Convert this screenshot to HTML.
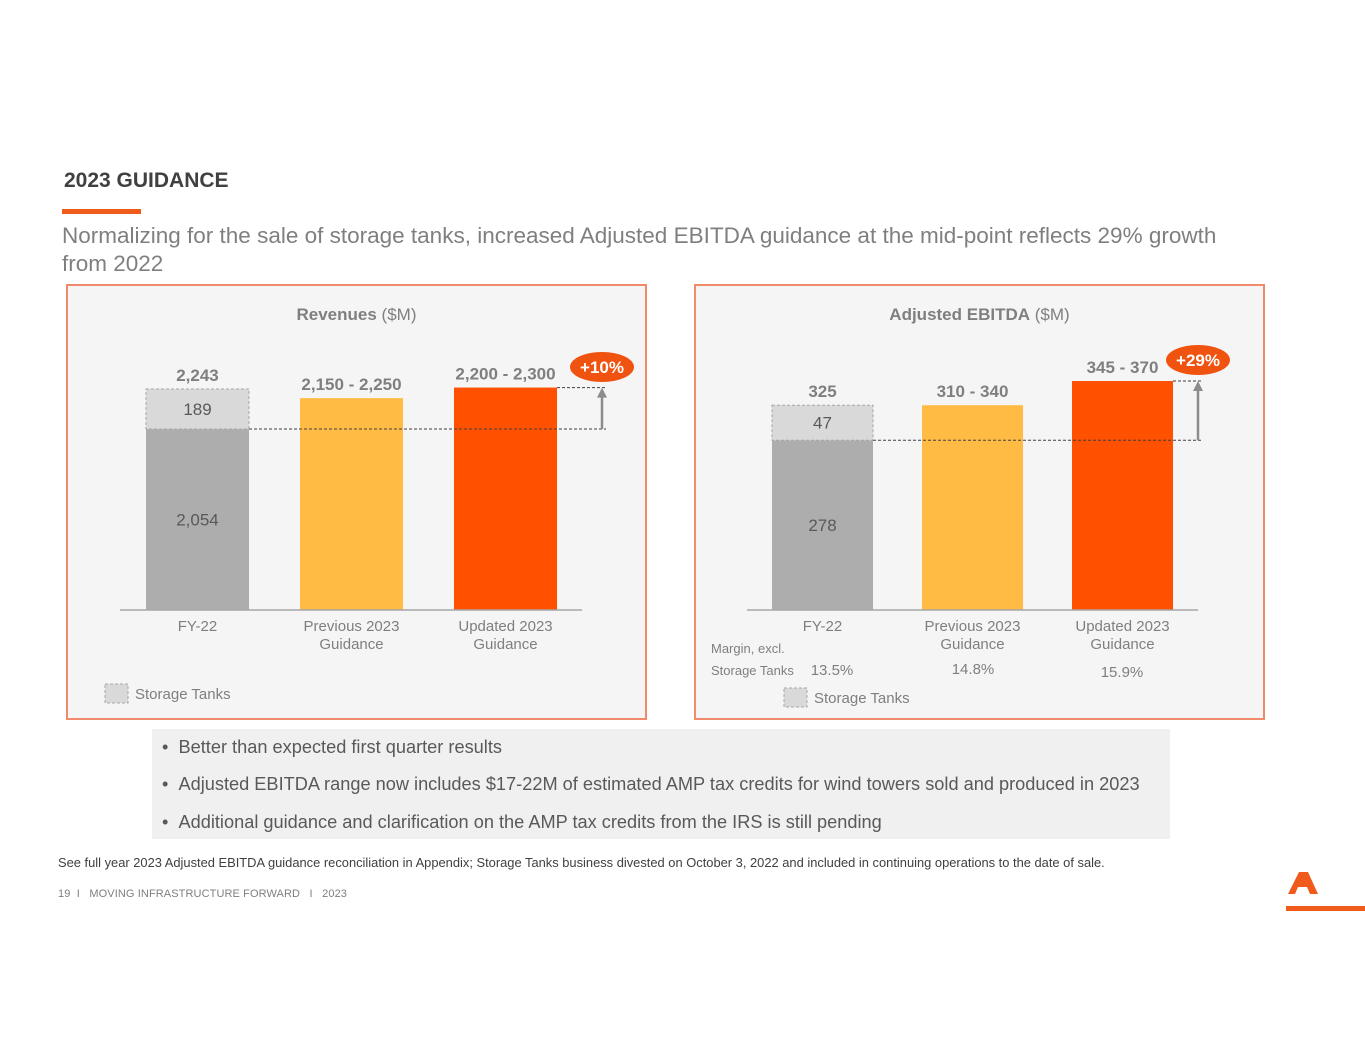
<!DOCTYPE html>
<html><head><meta charset="utf-8">
<style>
body{margin:0;width:1365px;height:1055px;background:#fff;position:relative;overflow:hidden;font-family:"Liberation Sans",sans-serif;color:#7f7f7f}
.abs{position:absolute}
</style></head>
<body>
<div class="abs" style="left:64px;top:169px;font-size:21px;font-weight:bold;color:#404040">2023 GUIDANCE</div>
<div class="abs" style="left:62px;top:209px;width:79px;height:5px;background:#f05a1a"></div>
<div class="abs" style="left:62px;top:222px;font-size:22.5px;line-height:28px;color:#7f7f7f;width:1180px">Normalizing for the sale of storage tanks, increased Adjusted EBITDA guidance at the mid-point reflects 29% growth from 2022</div>
<svg class="abs" style="left:0;top:0" width="1365" height="1055" id="charts" font-family="Liberation Sans, sans-serif"></svg>
<div class="abs" style="left:152px;top:729px;width:1018px;height:110px;background:#f0f0f0;font-size:18.2px;color:#595959">
<div style="position:absolute;left:10px;top:8px">•&nbsp;&nbsp;Better than expected first quarter results</div>
<div style="position:absolute;left:10px;top:45px">•&nbsp;&nbsp;Adjusted EBITDA range now includes $17-22M of estimated AMP tax credits for wind towers sold and produced in 2023</div>
<div style="position:absolute;left:10px;top:83px">•&nbsp;&nbsp;Additional guidance and clarification on the AMP tax credits from the IRS is still pending</div>
</div>
<div class="abs" style="left:58px;top:855px;font-size:12.9px;color:#404040">See full year 2023 Adjusted EBITDA guidance reconciliation in Appendix; Storage Tanks business divested on October 3, 2022 and included in continuing operations to the date of sale.</div>
<div class="abs" style="left:58px;top:888px;font-size:11px;color:#7f7f7f;letter-spacing:0.1px">19&nbsp;&nbsp;I&nbsp;&nbsp;&nbsp;MOVING INFRASTRUCTURE FORWARD&nbsp;&nbsp;&nbsp;I&nbsp;&nbsp;&nbsp;2023</div>
<svg class="abs" style="left:1284px;top:870px" width="82" height="42">
<polygon points="15,2 24,2 34,24 26,24 23,17 14,17 11,24 4,24 13,6" fill="#f05a1a"/>
<rect x="2" y="36" width="80" height="5" fill="#f05a1a"/>
</svg>
<script>
const revCats=["FY-22","Previous 2023|Guidance","Updated 2023|Guidance"];
const revBase=[2054,2150,2200];
const revHigh=[2243,2250,2300];
const revTanks=[189,0,0];
const revLabels=["2,243","2,150 - 2,250","2,200 - 2,300"];
const ebCats=["FY-22","Previous 2023|Guidance","Updated 2023|Guidance"];
const ebBase=[278,310,345];
const ebHigh=[325,340,370];
const ebTanks=[47,0,0];
const ebLabels=["325","310 - 340","345 - 370"];
const margins=["13.5%","14.8%","15.9%"];
const colors=["#adadad","#ffbb44","#ff5100"];
const svg=document.getElementById('charts');
const NS="http://www.w3.org/2000/svg";
function mk(t,a,txt){const e=document.createElementNS(NS,t);for(const k in a)e.setAttribute(k,a[k]);if(txt!=null)e.textContent=txt;svg.appendChild(e);return e;}
function chart(o){
  let e=mk('rect',{x:o.px,y:285,width:o.pw,height:434,fill:'#f5f5f5',stroke:'#f08a6a','stroke-width':2});
  
  e=mk('text',{x:o.px+o.pw/2,y:320,'text-anchor':'middle','font-size':17,fill:'#7f7f7f'});
  e.innerHTML='<tspan font-weight="bold">'+o.title+'</tspan> ($M)';
  
  const base=610;const y=v=>base-o.a*(v-o.v0);
  const mids=o.high.map((h,i)=>i==0?h:(o.base[i]+h)/2);
  const baseY0=y(o.base[0]);
  o.cats.forEach((c,i)=>{
    const x=o.bx[i];
    if(i==0){
      e=mk('rect',{x,y:baseY0,width:o.bw,height:base-baseY0,fill:colors[0]});
      
      const tt=y(o.base[0]+o.tanks[0]);
      e=mk('rect',{x,y:tt,width:o.bw,height:baseY0-tt,fill:'#d9d9d9',stroke:'#a6a6a6','stroke-dasharray':'3,2'});
      
      e=mk('text',{x:x+o.bw/2,y:(tt+baseY0)/2+6,'text-anchor':'middle','font-size':17,fill:'#595959'},String(o.tanks[0]));
      e=mk('text',{x:x+o.bw/2,y:(baseY0+base)/2+6,'text-anchor':'middle','font-size':17,fill:'#595959'},o.base[0].toLocaleString('en-US'));
      e=mk('text',{x:x+o.bw/2,y:tt-8,'text-anchor':'middle','font-size':17,'font-weight':'bold',fill:'#7f7f7f'},o.labels[i]);
    } else {
      const t=y(mids[i]);
      e=mk('rect',{x,y:t,width:o.bw,height:base-t,fill:colors[i]});
      
      e=mk('text',{x:x+o.bw/2,y:t-8,'text-anchor':'middle','font-size':17,'font-weight':'bold',fill:'#7f7f7f'},o.labels[i]);
    }
    c.split('|').forEach((l,j)=>{mk('text',{x:x+o.bw/2,y:631+j*18,'text-anchor':'middle','font-size':15,fill:'#7f7f7f'},l);});
  });
  e=mk('line',{x1:o.ax0,x2:o.ax1,y1:base,y2:base,stroke:'#a6a6a6','stroke-width':1.5});
  
  const topU=y(mids[2]);
  mk('line',{x1:o.bx[0]+o.bw,x2:o.arX+4,y1:baseY0,y2:baseY0,stroke:'#404040','stroke-dasharray':'3,2'});
  mk('line',{x1:o.bx[2]+o.bw,x2:o.arX+4,y1:topU,y2:topU,stroke:'#404040','stroke-dasharray':'3,2'});
  mk('line',{x1:o.arX,x2:o.arX,y1:baseY0,y2:topU+8,stroke:'#8c8c8c','stroke-width':2.5});
  mk('polygon',{points:`${o.arX-5},${topU+10} ${o.arX+5},${topU+10} ${o.arX},${topU}`,fill:'#8c8c8c'});
  e=mk('ellipse',{cx:o.arX,cy:o.badgeY,rx:32,ry:15,fill:'#f0520f'});
  
  mk('text',{x:o.arX,y:o.badgeY+6,'text-anchor':'middle','font-size':17,'font-weight':'bold',fill:'#fff'},o.badge);
  e=mk('rect',{x:o.lgX,y:o.lgY,width:23,height:19,fill:'#d9d9d9',stroke:'#a6a6a6','stroke-dasharray':'3,2'});
  
  mk('text',{x:o.lgX+30,y:o.lgY+15,'font-size':15,fill:'#7f7f7f'},'Storage Tanks');
}
chart({name:'revenues',title:'Revenues',px:67,pw:579,cats:revCats,base:revBase,high:revHigh,tanks:revTanks,labels:revLabels,a:40/189,v0:1199,bx:[146,300,454],bw:103,ax0:120,ax1:582,arX:602,badgeY:367,badge:'+10%',lgX:105,lgY:684});
chart({name:'ebitda',title:'Adjusted EBITDA',px:695,pw:569,cats:ebCats,base:ebBase,high:ebHigh,tanks:ebTanks,labels:ebLabels,a:35/47,v0:50,bx:[772,922,1072],bw:101,ax0:747,ax1:1198,arX:1198,badgeY:360,badge:'+29%',lgX:784,lgY:688});
mk('text',{x:711,y:653,'font-size':13,fill:'#7f7f7f'},'Margin, excl.');
mk('text',{x:711,y:675,'font-size':13,fill:'#7f7f7f'},'Storage Tanks');
const mx=[832,973,1122],my=[675,674,677];
margins.forEach((m,i)=>{const e=mk('text',{x:mx[i],y:my[i],'text-anchor':'middle','font-size':15,fill:'#7f7f7f'},m);

});
</script>
</body></html>
